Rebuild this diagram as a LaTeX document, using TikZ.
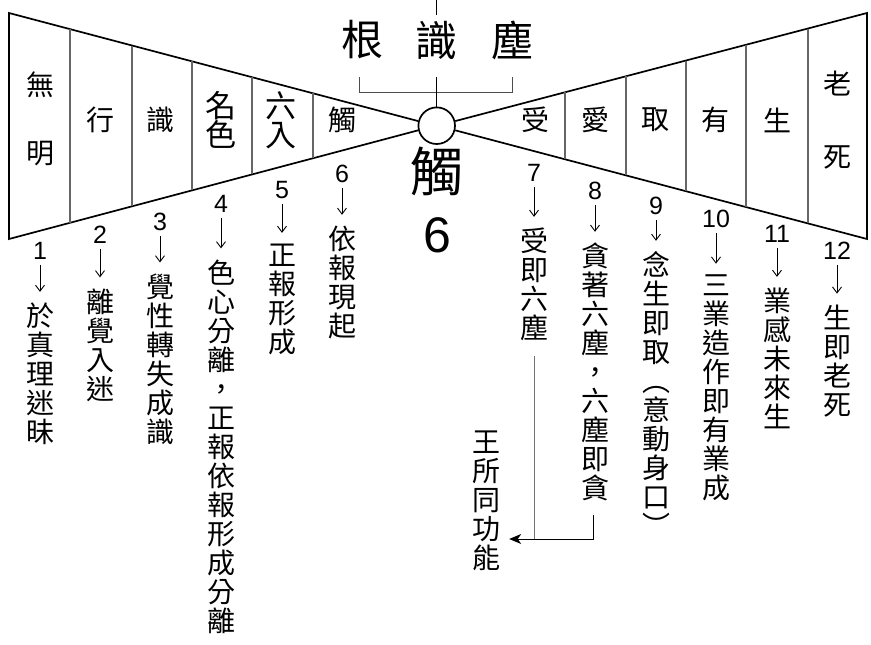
\documentclass[tikz,border=0pt]{standalone}
\usepackage{fontspec}
\setmainfont{Liberation Sans}
\newfontfamily\cjk{Noto Sans CJK TC}
\usetikzlibrary{arrows.meta}
\newcommand\fsz[2]{\fontsize{#1}{#2}\selectfont}
\begin{document}
\begin{tikzpicture}[x=1pt,y=-1pt,
  outerline/.style={line width=1.7pt, black},
  divider/.style={line width=1.1pt, black!60},
  lab/.style={inner sep=0pt, font=\cjk\fsz{28}{30}, align=center},
  num/.style={inner sep=0pt, font=\fsz{25}{25}},
  vtext/.style={inner sep=0pt, font=\cjk\fsz{28}{29}, align=center},
  numarr/.style={line width=0.9pt, -{Straight Barb[length=6pt,width=9pt]}, shorten <=5pt, shorten >=11pt},
  thin/.style={line width=0.9pt},
]
\useasboundingbox (0,0) rectangle (871,645);

% hub circle
\node[circle, draw, line width=1.7pt, minimum size=36.6pt, inner sep=0pt] (hub) at (436.7,125.7) {};

% triangles
\coordinate (LT) at (9,13);
\coordinate (LB) at (9,239);
\coordinate (RT) at (867,13);
\coordinate (RB) at (867,239);
\draw[outerline] (hub.166) -- (LT) -- (LB) -- (hub.194);
\draw[outerline] (hub.14) -- (RT) -- (RB) -- (hub.-14);

% dividers left
\draw[divider] (70,29.1) -- (70,222.8);
\draw[divider] (132,45.5) -- (132,206.3);
\draw[divider] (192,61.3) -- (192,190.4);
\draw[divider] (252,77.2) -- (252,174.4);
\draw[divider] (313,93.3) -- (313,158.2);
% dividers right
\draw[divider] (565,92.3) -- (565,159.3);
\draw[divider] (626,76.3) -- (626,175.4);
\draw[divider] (686,60.5) -- (686,191.2);
\draw[divider] (746,44.8) -- (746,207.1);
\draw[divider] (808,28.5) -- (808,223.4);

% title
\node[inner sep=0pt, font=\cjk\fsz{42}{42}] (gen) at (362,40) {根};
\node[inner sep=0pt, font=\cjk\fsz{42}{42}] (shi) at (436.7,40) {識};
\node[inner sep=0pt, font=\cjk\fsz{42}{42}] (chen) at (512,40) {塵};
\draw[thin] (436.7,0) -- (436.7,15);
\draw[thin, black!70] (359,77) -- (359,92) -- (512,92) -- (512,77);
\draw[thin] (436.7,77) -- (hub.north);

% center labels
\node[inner sep=0pt, font=\cjk\fsz{53}{53}] (chu) at (437,171) {觸};
\node[inner sep=0pt, font=\fsz{50}{50}] (six) at (437,235) {6};

% section labels
\node[lab, font=\cjk\fsz{28}{68}] (s1) at (40,119) {無\\明};
\node[lab] (s2) at (100,120) {行};
\node[lab] (s3) at (160,120) {識};
\node[lab, font=\cjk\fsz{31}{29}] (s4) at (221,120) {名\\色};
\node[lab, font=\cjk\fsz{31}{29}] (s5) at (281,120) {六\\入};
\node[lab] (s6) at (342,120) {觸};
\node[lab] (r1) at (535,120) {受};
\node[lab] (r2) at (595,120) {愛};
\node[lab] (r3) at (655,120) {取};
\node[lab] (r4) at (715,120) {有};
\node[lab] (r5) at (777,120) {生};
\node[lab, font=\cjk\fsz{28}{73}] (r6) at (837,120) {老\\死};

% numbers
\node[num] (n1) at (40,251) {1};
\node[num] (n2) at (100,235) {2};
\node[num] (n3) at (160,222) {3};
\node[num] (n4) at (221,204) {4};
\node[num] (n5) at (282,190) {5};
\node[num] (n6) at (342,174) {6};
\node[num] (n7) at (534,173) {7};
\node[num] (n8) at (595,191) {8};
\node[num] (n9) at (656,206) {9};
\node[num] (n10) at (716,219) {10};
\node[num] (n11) at (777,234) {11};
\node[num] (n12) at (837,251) {12};

% vertical texts
\node[vtext] (t1) at (40,374) {於\\真\\理\\迷\\昧};
\node[vtext] (t2) at (100,345) {離\\覺\\入\\迷};
\node[vtext] (t3) at (160,359) {覺\\性\\轉\\失\\成\\識};
\node[vtext] (t4) at (221,446.5) {色\\心\\分\\離\\，\\正\\報\\依\\報\\形\\成\\分\\離};
\node[vtext] (t5) at (282,299.5) {正\\報\\形\\成};
\node[vtext] (t6) at (342,282.5) {依\\報\\現\\起};
\node[vtext] (t7) at (534,284.5) {受\\即\\六\\塵};
\node[vtext] (t8) at (595,372) {貪\\著\\六\\塵\\，\\六\\塵\\即\\貪};
\node[vtext] (t9) at (656,394.5) {念\\生\\即\\取\\︵\\意\\動\\身\\口\\︶};
\node[vtext] (t10) at (716,388) {三\\業\\造\\作\\即\\有\\業\\成};
\node[vtext] (t11) at (777,358.5) {業\\感\\未\\來\\生};
\node[vtext] (t12) at (837,361) {生\\即\\老\\死};
\node[vtext] (wang) at (486,501) {王\\所\\同\\功\\能};

% number arrows
\foreach \i in {1,...,12}{
  \draw[numarr] (n\i) -- (n\i |- t\i.north);
}

% connector 7/8 -> wang
\coordinate (jn) at (593,539);
\draw[thin, black!55] ([yshift=-15pt]t7.south) -- (t7.south |- jn);
\draw[thin, -{Stealth[length=12pt,width=10pt,inset=3.5pt]}] ([yshift=-14pt,xshift=-2pt]t8.south) |- ([xshift=9pt]wang.east |- jn);
\end{tikzpicture}
\end{document}
